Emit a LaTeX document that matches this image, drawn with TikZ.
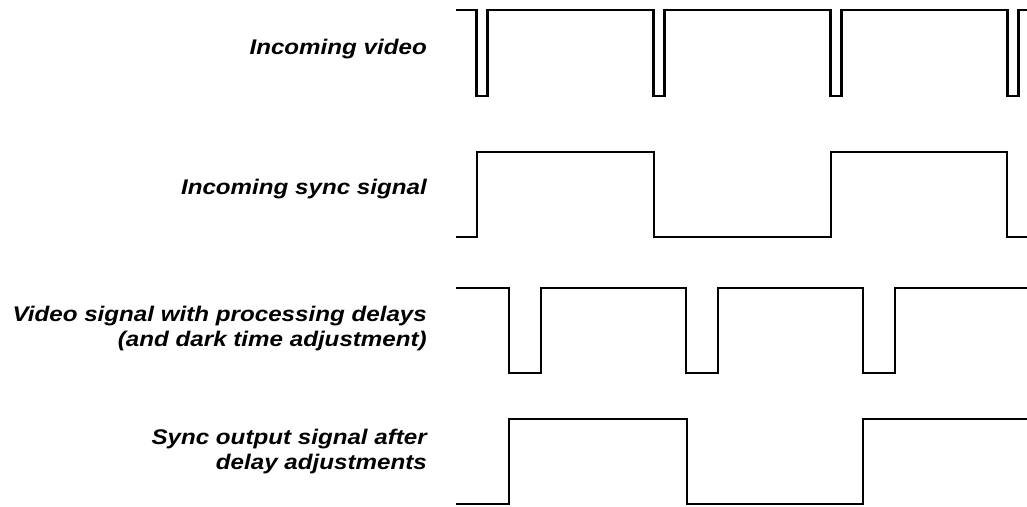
\documentclass[tikz,border=0pt]{standalone}
\usepackage{fontspec}
\setmainfont{Liberation Sans}
\newfontfamily\lblfont[FakeStretch=1.14]{Liberation Sans}
\begin{document}
\begin{tikzpicture}[x=1pt,y=-1pt,
  wave/.style={line width=2.5pt, line join=miter},
  lbl/.style={anchor=east, align=right, inner sep=0pt, font=\lblfont\fontsize{21.2}{25}\selectfont\bfseries\itshape}]
\useasboundingbox (0,0) rectangle (1027,506);
% labels
\node[lbl] (l1) at (427,49) {Incoming video};
\node[lbl] (l2) at (427,189) {Incoming sync signal};
\node[lbl] (l3) at (427,329) {Video signal with processing delays\\(and dark time adjustment)};
\node[lbl] (l4) at (427,452) {Sync output signal after\\delay adjustments};
% incoming video
\draw[wave] (456,10) -- (476.5,10) -- (476.5,96) -- (487.5,96) -- (487.5,10)
  -- (653.5,10) -- (653.5,96) -- (664.5,96) -- (664.5,10)
  -- (830.5,10) -- (830.5,96) -- (841.5,96) -- (841.5,10)
  -- (1007.5,10) -- (1007.5,96) -- (1018.5,96) -- (1018.5,10) -- (1028,10);
% incoming sync
\draw[wave] (456,237) -- (477,237) -- (477,152) -- (654,152) -- (654,237)
  -- (831,237) -- (831,152) -- (1007,152) -- (1007,237) -- (1028,237);
% delayed video
\draw[wave] (456,288) -- (509,288) -- (509,373) -- (541,373) -- (541,288)
  -- (686,288) -- (686,373) -- (718,373) -- (718,288)
  -- (863,288) -- (863,373) -- (895,373) -- (895,288) -- (1028,288);
% sync output
\draw[wave] (456,504) -- (509,504) -- (509,419) -- (687,419) -- (687,504)
  -- (863,504) -- (863,419) -- (1028,419);
\end{tikzpicture}
\end{document}
